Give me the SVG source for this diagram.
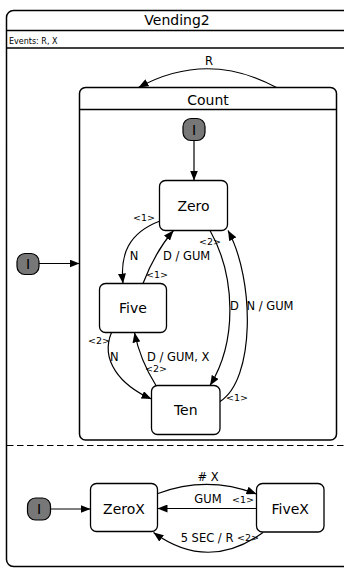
<svg xmlns="http://www.w3.org/2000/svg" width="344" height="568" viewBox="0 0 344 568">
<style>
.box{fill:#fff;stroke:#000;stroke-width:1.5}
.st{fill:#fff;stroke:#000;stroke-width:1.3}
.ini{fill:#777;stroke:#000;stroke-width:1.2}
.ed{fill:none;stroke:#000;stroke-width:1.2;marker-end:url(#ah)}
text{font-family:"DejaVu Sans",Verdana,sans-serif;fill:#000}
.t14{font-size:14px;text-anchor:middle}
.lb{font-size:11.5px}
.pr{font-size:9.5px}
.ii{font-size:14px;text-anchor:middle}
</style>
<defs>
<marker id="ah" markerWidth="11" markerHeight="8" refX="10" refY="4" orient="auto" markerUnits="userSpaceOnUse">
<path d="M0,0 L10,4 L0,8 Z" fill="#000"/>
</marker>
</defs>
<g id="Vending2">
<rect class="box" x="6.5" y="10.5" width="345" height="556" rx="7"/>
<line x1="6.5" y1="30.5" x2="344" y2="30.5" stroke="#000" stroke-width="1.3"/>
<line x1="6.5" y1="48" x2="344" y2="48" stroke="#000" stroke-width="1.3"/>
<text class="t14" x="177" y="25">Vending2</text>
<text x="9" y="44" style="font-size:8px">Events: R, X</text>
<line x1="7" y1="445.5" x2="344" y2="445.5" stroke="#000" stroke-width="1.2" stroke-dasharray="6.5,3.5"/>
</g>
<g id="Count">
<rect class="box" x="79.5" y="87.5" width="257" height="352.5" rx="6"/>
<line x1="79.5" y1="109.5" x2="336.5" y2="109.5" stroke="#000" stroke-width="1.3"/>
<text class="t14" x="208" y="105">Count</text>
</g>
<g id="init_outer">
<rect class="ini" x="17" y="253.5" width="22" height="21" rx="8"/>
<text class="ii" x="28" y="269">I</text>
</g>
<g id="init_count">
<rect class="ini" x="183" y="118.5" width="22" height="22" rx="8"/>
<text class="ii" x="194" y="134.5">I</text>
</g>
<g id="Zero">
<rect class="st" x="159.5" y="180.5" width="68" height="50" rx="6"/>
<text class="t14" x="193.5" y="210.5">Zero</text>
</g>
<g id="Five">
<rect class="st" x="99.5" y="283.5" width="67" height="49" rx="6"/>
<text class="t14" x="133" y="313">Five</text>
</g>
<g id="Ten">
<rect class="st" x="151.5" y="385.5" width="68.5" height="49" rx="6"/>
<text class="t14" x="185.75" y="415">Ten</text>
</g>
<g id="init_x">
<rect class="ini" x="27.5" y="498" width="23" height="22" rx="8"/>
<text class="ii" x="39" y="514">I</text>
</g>
<g id="ZeroX">
<rect class="st" x="90.5" y="483.5" width="67" height="48" rx="6"/>
<text class="t14" x="124" y="514">ZeroX</text>
</g>
<g id="FiveX">
<rect class="st" x="256.5" y="483.5" width="67.5" height="48.5" rx="6"/>
<text class="t14" x="290.25" y="514">FiveX</text>
</g>
<g id="connectors">
<path class="ed" d="M276.5,87.5 Q207,50 138.5,87.5"/>
<path class="ed" d="M39,263.5 L79.5,263.5"/>
<path class="ed" d="M194,140.5 L194,180.5"/>
<path class="ed" d="M160,221 C128,233 120,255 123,283.5"/>
<path class="ed" d="M143,283.5 Q155,252 173.5,230.5"/>
<path class="ed" d="M210,230.5 C235,275 238,340 210,385.5"/>
<path class="ed" d="M220,401.5 C255,380 255,280 228,230.5"/>
<path class="ed" d="M111.5,332.5 C100,360 120,385 151.5,399"/>
<path class="ed" d="M156,385.5 Q140,360 134.5,332.5"/>
<path class="ed" d="M50.5,509 L90.5,509"/>
<path class="ed" d="M158,493.5 Q207,475 256.5,494"/>
<path class="ed" d="M256.5,508.5 L157.5,508.5"/>
<path class="ed" d="M263,532.5 Q208,572 153.5,532.5"/>
</g>
<g id="labels">
<text class="lb" x="209" y="65" text-anchor="middle">R</text>
<text class="pr" x="133" y="221">&lt;1&gt;</text>
<text class="lb" x="134" y="260" text-anchor="middle">N</text>
<text class="lb" x="163" y="260">D / GUM</text>
<text class="pr" x="146" y="278">&lt;1&gt;</text>
<text class="pr" x="199" y="245">&lt;2&gt;</text>
<text class="lb" x="230" y="310">D</text>
<text class="lb" x="246.5" y="310">N / GUM</text>
<text class="pr" x="226" y="401">&lt;1&gt;</text>
<text class="pr" x="88" y="344">&lt;2&gt;</text>
<text class="lb" x="110" y="361">N</text>
<text class="lb" x="147" y="361">D / GUM, X</text>
<text class="pr" x="145" y="372">&lt;2&gt;</text>
<text class="lb" x="208" y="481" text-anchor="middle">#  X</text>
<text class="lb" x="208" y="503" text-anchor="middle">GUM</text>
<text class="pr" x="232" y="503">&lt;1&gt;</text>
<text class="lb" x="207" y="542" text-anchor="middle">5 SEC / R</text>
<text class="pr" x="237" y="541">&lt;2&gt;</text>
</g>
</svg>
